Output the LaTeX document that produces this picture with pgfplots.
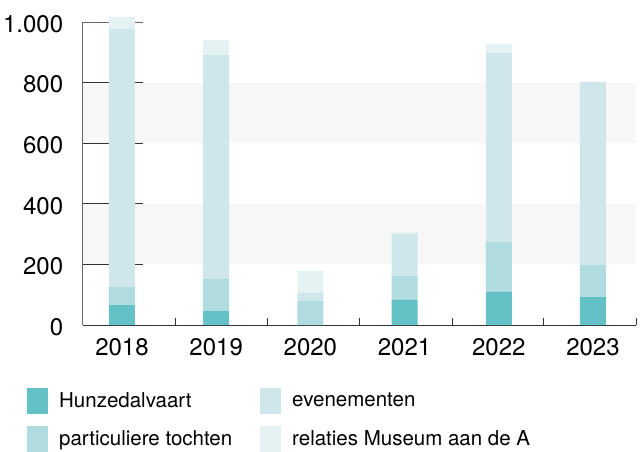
\documentclass[border=0pt]{standalone}
\usepackage{fontspec}
\setmainfont{TeX Gyre Heros}
\usepackage{pgfplots}
\pgfplotsset{compat=1.18}
\definecolor{cH}{HTML}{64C1C5}
\definecolor{cP}{HTML}{B0DCDF}
\definecolor{cE}{HTML}{CFE7EA}
\definecolor{cR}{HTML}{E4F2F3}
\definecolor{band}{HTML}{F7F7F7}
\pgfplotsset{sw/.style={fill=#1, draw=none,
  legend image code/.code={\fill[#1] (0bp,-13bp) rectangle (21bp,13bp);}}}
\begin{document}
\begin{tikzpicture}
\begin{axis}[
  at={(0,0)}, anchor=south west,
  scale only axis, width=553.3bp, height=303bp,
  clip=false,
  axis background/.style={path picture={
    \fill[band] (path picture bounding box.south west) ++(0,60.6bp) rectangle ++(553.3bp,60.6bp);
    \fill[band] (path picture bounding box.south west) ++(0,181.8bp) rectangle ++(553.3bp,60.6bp);
  }},
  ybar stacked, bar width=26bp,
  xmin=-0.417, xmax=5.457, ymin=0, ymax=1000,
  axis x line=bottom, axis y line=left,
  axis line style={-, draw=black!60, line width=0.8pt},
  x axis line style={draw=black!80},
  xtick={0.563,1.539,2.516,3.503,4.469,5.457},
  xticklabels={},
  extra x ticks={0,1,2,3,4,5},
  extra x tick labels={2018,2019,2020,2021,2022,2023},
  extra x tick style={/pgfplots/major tick length=0pt},
  ytick={0,200,400,600,800,1000},
  major tick length=7bp,
  tick align=inside,
  every tick/.style={draw=black!80, line width=0.8pt},
  /pgf/number format/assume math mode=true,
  /pgf/number format/1000 sep={.},
  ticklabel style={font=\fontsize{24bp}{28bp}\selectfont, text=black},
  yticklabel style={xshift=-16bp, yshift=-2bp},
  xticklabel style={yshift=-10bp},
  legend columns=2, transpose legend,
  legend style={at={(-0.1007,-0.2066)}, anchor=north west, draw=none, fill=none,
    inner sep=0pt, row sep=12bp,
    font=\fontsize{20.5bp}{24bp}\selectfont,
    /tikz/every odd column/.append style={column sep=9bp},
    /tikz/every even column/.append style={column sep=26bp}},
  legend cell align=left,
]
\addplot[sw=cH] coordinates {(0,66) (1,46) (2,0) (3,83) (4,109) (5,92)};
\addlegendentry{Hunzedalvaart}
\addplot[sw=cP] coordinates {(0,59) (1,106) (2,79) (3,79) (4,165) (5,106)};
\addlegendentry{particuliere tochten}
\addplot[sw=cE] coordinates {(0,852) (1,739) (2,27) (3,138) (4,624) (5,604)};
\addlegendentry{evenementen}
\addplot[sw=cR] coordinates {(0,39) (1,49) (2,72) (3,7) (4,29) (5,0)};
\addlegendentry{relaties Museum aan de A}
\draw[black!80, line width=0.8pt] (rel axis cs:0,0.2) -- ++(21bp,0);
\draw[black!80, line width=0.8pt] (rel axis cs:0,0.4) -- ++(21bp,0);
\draw[black!80, line width=0.8pt] (rel axis cs:0,0.6) -- ++(21bp,0);
\draw[black!80, line width=0.8pt] (rel axis cs:0,0.8) -- ++(21bp,0);
\draw[black!60, line width=0.8pt] (rel axis cs:0,1) -- ++(21bp,0);
\end{axis}
\pgfresetboundingbox
\useasboundingbox (-82.7bp,-127bp) rectangle (560.3bp,325bp);
\end{tikzpicture}
\end{document}
